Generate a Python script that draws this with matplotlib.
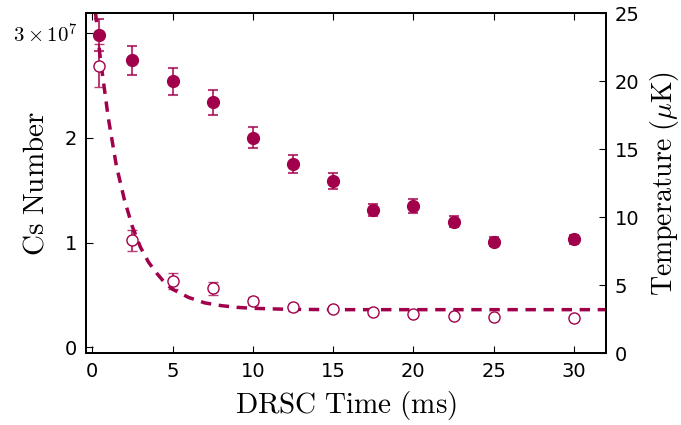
import matplotlib
matplotlib.use('Agg')
import matplotlib.pyplot as plt

plt.rcParams['mathtext.fontset'] = 'cm'

# DRSC time (ms)
t_ms = [0.4, 2.5, 5, 7.5, 10, 12.5, 15, 17.5, 20, 22.5, 25, 30]

# Cs atom number (units of 1e7), filled markers, left axis
cs_num = [2.98, 2.74, 2.54, 2.34, 2.00, 1.75, 1.59, 1.31, 1.35, 1.20, 1.01, 1.03]
cs_err = [0.15, 0.137, 0.127, 0.118, 0.10, 0.085, 0.077, 0.06, 0.065, 0.055, 0.04, 0.04]

# temperature (uK), open markers, right axis
temp = [21.15, 8.29, 5.29, 4.76, 3.85, 3.38, 3.24, 3.01, 2.87, 2.72, 2.67, 2.60]
temp_err = [1.58, 0.8, 0.57, 0.49, 0.3, 0.25, 0.2, 0.15, 0.15, 0.12, 0.1, 0.1]

# fitted temperature curve
fit_t = [0.2, 0.5, 1.0, 1.5, 2.0, 2.5, 3.0, 3.5, 4.0, 4.5, 5, 6, 7, 8, 9, 10, 12, 15, 20, 32]
fit_T = [25.1, 21.7, 17.3, 13.8, 11.3, 9.3, 7.8, 6.7, 5.9, 5.2, 4.7, 4.1, 3.7, 3.5,
         3.37, 3.3, 3.23, 3.2, 3.2, 3.2]

col = '#a1004b'

fig = plt.figure(figsize=(6.81, 4.25), dpi=100)
ax = fig.add_axes([0.126, 0.169, 0.764, 0.8])
ax2 = ax.twinx()

eb1 = ax.errorbar(t_ms, [v * 1e7 for v in cs_num], yerr=[e * 1e7 for e in cs_err],
                  fmt='o', color=col, ms=8.5, mec=col, ecolor=col, elinewidth=1.5,
                  capsize=3.5, capthick=1.5, zorder=3)
ax2.plot(fit_t, fit_T, '--', color=col, lw=2.5, dashes=(3, 2.2), zorder=2)
eb2 = ax2.errorbar(t_ms, temp, yerr=temp_err, fmt='o', mfc='white', mec=col, color=col,
                   ms=8, mew=1.0, ecolor=col, elinewidth=1.5, capsize=3.5, capthick=1.5,
                   zorder=3)
for eb in (eb1, eb2):
    for ln in eb[1]:
        ln.set_alpha(0.75)
    for ln in eb[2]:
        ln.set_alpha(0.75)

ax.set_xlim(-0.4, 32)
ax.set_ylim(-0.055e7, 3.19e7)
ax2.set_ylim(0, 25)

ax.set_xticks([0, 5, 10, 15, 20, 25, 30])
ax.set_yticks([0, 1e7, 2e7, 3e7])
ax.set_yticklabels(['0', '1', '2', r'$3\times10^7$'])
ax2.set_yticks([0, 5, 10, 15, 20, 25])

ax.tick_params(axis='both', direction='in', length=5, labelsize=14, top=True, pad=6)
ax2.tick_params(axis='y', direction='in', length=5, labelsize=14, pad=6)
ax.get_yticklabels()[3].set_fontsize(15)

for a in (ax, ax2):
    for s in a.spines.values():
        s.set_linewidth(1.3)

ax.set_xlabel(r'$\mathrm{DRSC\ Time\ (ms)}$', fontsize=21, labelpad=6)
ax.set_ylabel(r'$\mathrm{Cs\ Number}$', fontsize=21)
ax.yaxis.set_label_coords(-0.07, 0.5)
ax2.set_ylabel(r'$\mathrm{Temperature}\ (\mu\mathrm{K})$', fontsize=20)
ax2.yaxis.set_label_coords(1.08, 0.5)

fig.savefig('out.png', dpi=100)
